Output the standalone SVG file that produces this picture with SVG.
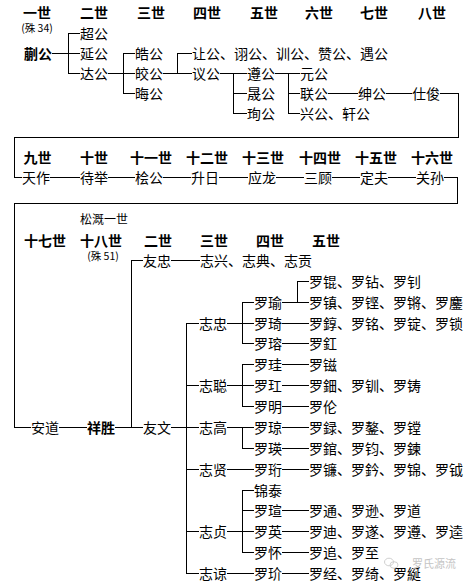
<svg xmlns="http://www.w3.org/2000/svg" width="469" height="585" viewBox="0 0 469 585">
<style>
text { font-family: "Noto Sans CJK SC", "Noto Sans", sans-serif; font-size: 14px; fill: #000; dominant-baseline: central; }
.h { font-weight: bold; text-anchor: middle; }
.b { font-weight: bold; }
.s { font-size: 10.5px; text-anchor: middle; }
.m { font-size: 12px; }
.w { font-size: 11px; fill: #c4c4c4; }
#connectors path { stroke: #000; stroke-width: 1; fill: none; shape-rendering: crispEdges; }
</style>
<rect width="469" height="585" fill="#fff"/>
<g id="headers">
<text class="h" x="37" y="11.5">一世</text>
<text class="h" x="94" y="11.5">二世</text>
<text class="h" x="151" y="11.5">三世</text>
<text class="h" x="207" y="11.5">四世</text>
<text class="h" x="264" y="11.5">五世</text>
<text class="h" x="319" y="11.5">六世</text>
<text class="h" x="374" y="11.5">七世</text>
<text class="h" x="432" y="11.5">八世</text>
<text class="s" x="37" y="27">(殊 34)</text>
<text class="h" x="37.5" y="157">九世</text>
<text class="h" x="94" y="157">十世</text>
<text class="h" x="151" y="157">十一世</text>
<text class="h" x="207" y="157">十二世</text>
<text class="h" x="263" y="157">十三世</text>
<text class="h" x="320" y="157">十四世</text>
<text class="h" x="376" y="157">十五世</text>
<text class="h" x="432" y="157">十六世</text>
<text class="m" x="80" y="218">松溉一世</text>
<text class="h" x="45" y="239.5">十七世</text>
<text class="h" x="101" y="239.5">十八世</text>
<text class="h" x="158" y="239.5">二世</text>
<text class="h" x="214" y="239.5">三世</text>
<text class="h" x="270" y="239.5">四世</text>
<text class="h" x="326" y="239.5">五世</text>
<text class="s" x="103" y="255">(殊 51)</text>
</g>
<g id="connectors">
<path d="M52 53.5 H80 M80 33.5 H68.5 V73.5 H80"/>
<path d="M108 73.5 H135 M135 53.5 H123.5 V93.5 H135"/>
<path d="M163 73.5 H192 M192 53.5 H177.5 V73.5"/>
<path d="M220 73.5 H247 M233.5 73.5 V113.5 H247 M233.5 93.5 H247"/>
<path d="M275 73.5 H300 M288.5 73.5 V113.5 H300 M288.5 93.5 H300"/>
<path d="M328 93.5 H358 M386 93.5 H412"/>
<path d="M440 93.5 H458.5 V137.5 H14.5 V177.5 H22"/>
<path d="M50 177.5 H80 M108 177.5 H135 M163 177.5 H191 M219 177.5 H248 M276 177.5 H304 M332 177.5 H360 M388 177.5 H416"/>
<path d="M444 177.5 H457.5 V203.5 H14.5 V427.5 H31"/>
<path d="M59 427.5 H87 M115 427.5 H143 M143 260.5 H131.5 V427.5"/>
<path d="M171 260.5 H200 M171 427.5 H199"/>
<path d="M199 323.5 H186.5 V573.5 H199 M186.5 385.5 H199 M186.5 469.5 H199 M186.5 531.5 H199"/>
<path d="M227 323.5 H254 M254 302.5 H242.5 V343.5 H254"/>
<path d="M282 302.5 H309 M309 281.5 H297.5 V302.5 M282 323.5 H309 M282 343.5 H309"/>
<path d="M227 385.5 H254 M254 364.5 H242.5 V406.5 H254"/>
<path d="M282 364.5 H309 M282 385.5 H309 M282 406.5 H309"/>
<path d="M227 427.5 H254 M242.5 427.5 V448.5 H254 M282 427.5 H309 M282 448.5 H309"/>
<path d="M227 469.5 H254 M282 469.5 H309"/>
<path d="M227 531.5 H254 M254 490.5 H242.5 V552.5 H254 M242.5 510.5 H254"/>
<path d="M282 510.5 H309 M282 531.5 H309 M282 552.5 H309"/>
<path d="M227 573.5 H254 M282 573.5 H309"/>
</g>
<g id="n-kuai"><text class="b" x="24" y="53">蒯公</text></g>
<g id="n-chao"><text x="80" y="33">超公</text></g>
<g id="n-yan"><text x="80" y="53">延公</text></g>
<g id="n-da"><text x="80" y="73">达公</text></g>
<g id="n-hao"><text x="135" y="53">皓公</text></g>
<g id="n-jiao"><text x="135" y="73">皎公</text></g>
<g id="n-hui"><text x="135" y="93">晦公</text></g>
<g id="n-rang"><text x="192" y="53">让公、诩公、训公、赞公、遇公</text></g>
<g id="n-yi"><text x="192" y="73">议公</text></g>
<g id="n-zun"><text x="247" y="73">遵公</text></g>
<g id="n-sheng"><text x="247" y="93">晟公</text></g>
<g id="n-xun"><text x="247" y="113">珣公</text></g>
<g id="n-yuan"><text x="300" y="73">元公</text></g>
<g id="n-lian"><text x="300" y="93">联公</text></g>
<g id="n-xing"><text x="300" y="113">兴公、轩公</text></g>
<g id="n-shen"><text x="358" y="93">绅公</text></g>
<g id="n-shijun"><text x="412" y="93">仕俊</text></g>
<g id="n-tianzuo"><text x="22" y="177">天作</text></g>
<g id="n-daiju"><text x="80" y="177">待举</text></g>
<g id="n-gui"><text x="135" y="177">桧公</text></g>
<g id="n-shengri"><text x="191" y="177">升日</text></g>
<g id="n-yinglong"><text x="248" y="177">应龙</text></g>
<g id="n-sangu"><text x="304" y="177">三顾</text></g>
<g id="n-dingfu"><text x="360" y="177">定夫</text></g>
<g id="n-guansun"><text x="416" y="177">关孙</text></g>
<g id="n-andao"><text x="31" y="427">安道</text></g>
<g id="n-xiangsheng"><text class="b" x="87" y="427">祥胜</text></g>
<g id="n-youzhong"><text x="143" y="260">友忠</text></g>
<g id="n-zhixing"><text x="200" y="260">志兴、志典、志贡</text></g>
<g id="n-youwen"><text x="143" y="427">友文</text></g>
<g id="n-zhizhong"><text x="199" y="323">志忠</text></g>
<g id="n-zhicong"><text x="199" y="385">志聪</text></g>
<g id="n-zhigao"><text x="199" y="427">志高</text></g>
<g id="n-zhixian"><text x="199" y="469">志贤</text></g>
<g id="n-zhizhen"><text x="199" y="531">志贞</text></g>
<g id="n-zhiliang"><text x="199" y="573">志谅</text></g>
<g id="n-luoyu"><text x="254" y="302">罗瑜</text></g>
<g id="n-luoqi"><text x="254" y="323">罗琦</text></g>
<g id="n-luorong"><text x="254" y="343">罗瑢</text></g>
<g id="n-luogui"><text x="254" y="364">罗珪</text></g>
<g id="n-luojue"><text x="254" y="385">罗玒</text></g>
<g id="n-luoming"><text x="254" y="406">罗明</text></g>
<g id="n-luoqiong"><text x="254" y="427">罗琼</text></g>
<g id="n-luoying"><text x="254" y="448">罗瑛</text></g>
<g id="n-luoheng"><text x="254" y="469">罗珩</text></g>
<g id="n-jintai"><text x="254" y="490">锦泰</text></g>
<g id="n-luoxuan"><text x="254" y="510">罗瑄</text></g>
<g id="n-luoying2"><text x="254" y="531">罗英</text></g>
<g id="n-luohuai"><text x="254" y="552">罗怀</text></g>
<g id="n-luojie"><text x="254" y="573">罗玠</text></g>
<g id="n-g5a"><text x="309" y="281">罗锟、罗钻、罗钊</text></g>
<g id="n-g5b"><text x="309" y="302">罗镇、罗铿、罗锵、罗鏖</text></g>
<g id="n-g5c"><text x="309" y="323">罗錞、罗铭、罗锭、罗锁</text></g>
<g id="n-g5d"><text x="309" y="343">罗釭</text></g>
<g id="n-g5e"><text x="309" y="364">罗镃</text></g>
<g id="n-g5f"><text x="309" y="385">罗鈿、罗钏、罗铸</text></g>
<g id="n-g5g"><text x="309" y="406">罗伦</text></g>
<g id="n-g5h"><text x="309" y="427">罗録、罗鏊、罗镗</text></g>
<g id="n-g5i"><text x="309" y="448">罗錧、罗钧、罗鍊</text></g>
<g id="n-g5j"><text x="309" y="469">罗镰、罗鈐、罗锦、罗钺</text></g>
<g id="n-g5k"><text x="309" y="510">罗通、罗逊、罗道</text></g>
<g id="n-g5l"><text x="309" y="531">罗迪、罗遂、罗遵、罗逵</text></g>
<g id="n-g5m"><text x="309" y="552">罗追、罗至</text></g>
<g id="n-g5n"><text x="309" y="573">罗经、罗绮、罗綖</text></g>
<g id="watermark">
<ellipse cx="389" cy="562" rx="4.5" ry="3.8" fill="none" stroke="#d0d0d0"/>
<ellipse cx="394" cy="565" rx="4" ry="3.3" fill="none" stroke="#d0d0d0"/>
<text class="w" x="412" y="563">罗氏源流</text>
</g>
</svg>
